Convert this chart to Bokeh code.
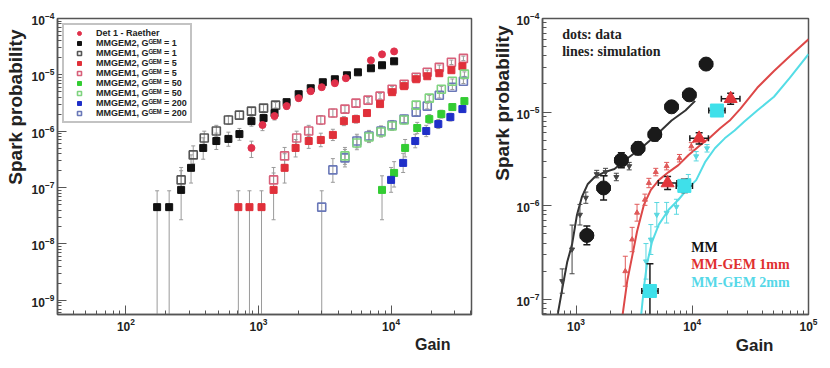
from bokeh.plotting import figure
from bokeh.models import (FixedTicker, LogTickFormatter, Title, Label, Legend, LegendItem)
from bokeh.layouts import row
from bokeh.embed import file_html
from bokeh.resources import INLINE

# ---------------- LEFT PANEL DATA ----------------
# Det 1 - Raether
a_gain = [885, 1072, 1321, 1630, 2009, 2477, 2999, 3767, 4559, 7047, 8544, 10540]
a_prob = [5.05e-7, 1.29e-6, 1.86e-6, 2.79e-6, 3.86e-6, 5.13e-6, 6.04e-6, 7.11e-6, 8.71e-6, 1.81e-5, 2.31e-5, 2.61e-5]
a_up = [0.12, 0.08, 0.06, 0.05, 0.05, 0.04, 0.04, 0.04, 0.04, 0.04, 0.04, 0.04]
a_dn = [0.17, 0.10, 0.07, 0.06, 0.05, 0.04, 0.04, 0.04, 0.04, 0.04, 0.04, 0.04]

# MMGEM2, G_GEM = 1
b_gain = [172, 212, 261, 310, 383, 481, 593, 718, 885, 1092, 1321, 1630, 2009, 2477, 3055, 3767, 4645, 5623, 7047, 8544, 10540]
b_prob = [4.5e-8, 4.5e-8, 9.1e-8, 2.24e-7, 5.05e-7, 6.7e-7, 7.3e-7, 8.9e-7, 1.51e-6, 1.71e-6, 2.10e-6, 3.28e-6,
          4.54e-6, 5.79e-6, 7.40e-6, 8.36e-6, 9.84e-6, 1.11e-5, 1.31e-5, 1.48e-5, 1.74e-5]
b_up = [0.29, 0.29, 0.34, 0.23, 0.18, 0.14, 0.12, 0.10, 0.08, 0.07, 0.06, 0.05, 0.05, 0.04, 0.04, 0.04, 0.04, 0.04, 0.04, 0.04, 0.04]
b_dn = [9, 9, 0.53, 0.27, 0.20, 0.15, 0.13, 0.11, 0.09, 0.08, 0.06, 0.05, 0.05, 0.04, 0.04, 0.04, 0.04, 0.04, 0.04, 0.04, 0.04]

# MMGEM1, G_GEM = 1
c_gain = [261, 322, 390, 481, 593, 718, 885, 1092, 1346]
c_prob = [1.37e-7, 3.8e-7, 7.6e-7, 1.01e-6, 1.58e-6, 1.93e-6, 2.27e-6, 2.57e-6, 2.90e-6]
c_up = [0.22, 0.16, 0.12, 0.10, 0.08, 0.07, 0.06, 0.06, 0.05]
c_dn = [0.25, 0.18, 0.13, 0.11, 0.09, 0.07, 0.06, 0.06, 0.05]

# MMGEM2, G_GEM = 5
d_gain = [705, 855, 1054, 1300, 1574, 1905, 2392, 2951, 3639, 4406, 5433, 6577, 8257, 10180, 12540, 15460, 18740, 23100, 28500, 34500]
d_prob = [4.5e-8, 4.5e-8, 4.5e-8, 9.1e-8, 2.24e-7, 5.05e-7, 6.7e-7, 7.0e-7, 8.6e-7, 1.51e-6, 1.64e-6, 2.10e-6,
          3.03e-6, 4.93e-6, 6.30e-6, 8.36e-6, 9.45e-6, 1.07e-5, 1.21e-5, 1.42e-5]
d_up = [0.29, 0.29, 0.29, 0.30, 0.25, 0.15, 0.12, 0.12, 0.10, 0.08, 0.07, 0.06, 0.05, 0.05, 0.04, 0.04, 0.04, 0.04, 0.04, 0.04]
d_dn = [9, 9, 9, 0.53, 0.27, 0.16, 0.13, 0.12, 0.10, 0.08, 0.07, 0.06, 0.05, 0.05, 0.04, 0.04, 0.04, 0.04, 0.04, 0.04]

# MMGEM1, G_GEM = 5
e_gain = [1300, 1574, 1941, 2392, 2951, 3639, 4488, 5433, 6700, 8257, 10180, 12540, 15460, 18740, 23100, 28500, 35100]
e_prob = [1.37e-7, 3.65e-7, 7.6e-7, 1.01e-6, 1.58e-6, 2.10e-6, 2.47e-6, 3.15e-6, 3.56e-6, 4.19e-6, 5.57e-6,
          6.82e-6, 9.08e-6, 1.11e-5, 1.36e-5, 1.67e-5, 1.96e-5]
e_err = [0.22, 0.15, 0.12, 0.10, 0.08, 0.07, 0.06, 0.06, 0.05, 0.05, 0.05, 0.04, 0.04, 0.04, 0.04, 0.04, 0.04]

# MMGEM2, G_GEM = 50
g_gain = [8544, 10540, 12760, 15740, 19410, 23930, 28970, 35720]
g_prob = [9.1e-8, 1.82e-7, 5.05e-7, 1.14e-6, 1.64e-6, 2.01e-6, 2.68e-6, 3.42e-6]
g_up = [0.25, 0.20, 0.15, 0.10, 0.08, 0.07, 0.06, 0.05]
g_dn = [0.53, 0.25, 0.16, 0.10, 0.08, 0.07, 0.06, 0.05]

# MMGEM1, G_GEM = 50
f_gain = [4488, 5521, 6808, 8395, 10180, 12540, 15460, 19410, 23930, 28970, 35720]
f_prob = [3.65e-7, 6.19e-7, 7.91e-7, 9.69e-7, 1.24e-6, 1.58e-6, 2.90e-6, 3.86e-6, 5.57e-6, 7.71e-6, 1.03e-5]
f_err = [0.15, 0.12, 0.10, 0.09, 0.08, 0.07, 0.06, 0.05, 0.05, 0.04, 0.04]

# MMGEM2, G_GEM = 200
i_gain = [10000, 12330, 15210, 18410, 22710, 27990, 34500]
i_prob = [1.37e-7, 2.74e-7, 6.7e-7, 1.01e-6, 1.34e-6, 1.78e-6, 2.47e-6]
i_err = [0.22, 0.17, 0.12, 0.10, 0.08, 0.07, 0.06]

# MMGEM1, G_GEM = 200
h_gain = [2999, 3639, 4488, 5521, 6808, 8395, 10180, 12540, 15460, 18740, 23100, 28970, 35100]
h_prob = [4.5e-8, 2.06e-7, 3.36e-7, 6.7e-7, 8.22e-7, 1.01e-6, 1.29e-6, 1.64e-6, 2.18e-6, 2.79e-6, 4.36e-6, 6.04e-6, 7.71e-6]
h_up = [0.29, 0.20, 0.15, 0.12, 0.10, 0.09, 0.08, 0.07, 0.06, 0.05, 0.05, 0.04, 0.04]
h_dn = [9, 0.22, 0.16, 0.12, 0.10, 0.09, 0.08, 0.07, 0.06, 0.05, 0.05, 0.04, 0.04]

legend_labels = ["Det 1 - Raether",
                 "MMGEM2, G\u1d33\u1d31\u1d39 = 1", "MMGEM1, G\u1d33\u1d31\u1d39 = 1",
                 "MMGEM2, G\u1d33\u1d31\u1d39 = 5", "MMGEM1, G\u1d33\u1d31\u1d39 = 5",
                 "MMGEM2, G\u1d33\u1d31\u1d39 = 50", "MMGEM1, G\u1d33\u1d31\u1d39 = 50",
                 "MMGEM2, G\u1d33\u1d31\u1d39 = 200", "MMGEM1, G\u1d33\u1d31\u1d39 = 200"]

left_xticks = [1e2, 1e3, 1e4]
left_yticks = [1e-9, 1e-8, 1e-7, 1e-6, 1e-5, 1e-4]

# ---------------- RIGHT PANEL DATA ----------------
mm_gain = [1240, 1727, 2455, 3420, 4764, 6637, 9438, 13150]
mm_prob = [4.82e-7, 1.55e-6, 3.07e-6, 4.11e-6, 5.78e-6, 1.14e-5, 1.53e-5, 3.26e-5]
mm_yerr = [0.10, 0.13, 0.08, 0.07, 0.07, 0.06, 0.06, 0.06]

g1_gain = [6138, 11460, 21400]
g1_prob = [1.75e-6, 5.25e-6, 1.39e-5]
g1_yerr = [0.07, 0.06, 0.06]

g2_gain = [4325, 8550, 16300]
g2_prob = [1.23e-7, 1.63e-6, 1.04e-5]
g2_up = [0.29, 0.07, 0.06]
g2_dn = [9, 0.07, 0.06]

mm_sim_gain = [690, 761, 839, 925, 1020, 1124, 1264, 1449, 1762, 2142, 2704, 3622, 4855, 6637, 8730, 10590]
mm_sim_prob = [6.5e-8, 1.29e-7, 2.49e-7, 3.87e-7, 8.03e-7, 1.24e-6, 1.71e-6, 2.03e-6, 2.29e-6, 2.47e-6,
               3.14e-6, 4.11e-6, 5.64e-6, 8.13e-6, 1.04e-5, 1.32e-5]

g1_sim_gain = [2502, 2758, 3041, 3350, 3843, 4406, 5152, 6265, 7603, 9247, 11690, 14220, 17270, 20990,
               26010, 36230, 50490, 69000, 100000]
g1_sim_prob = [6.5e-8, 1.57e-7, 2.88e-7, 5.31e-7, 1.03e-6, 1.48e-6, 1.88e-6, 2.29e-6, 2.72e-6, 3.47e-6,
               4.43e-6, 5.37e-6, 6.68e-6, 8.13e-6, 1.09e-5, 1.82e-5, 2.75e-5, 3.96e-5, 6.0e-5]

g2_sim_gain = [3622, 3843, 4074, 4493, 5152, 6265, 7603, 9247, 10810, 12880, 15660, 19030, 23130, 28100,
               36230, 50490, 69000, 100000]
g2_sim_prob = [6.5e-8, 1.35e-7, 2.38e-7, 4.06e-7, 6.29e-7, 9.08e-7, 1.16e-6, 1.55e-6, 1.88e-6, 2.92e-6,
               4.11e-6, 5.25e-6, 6.37e-6, 7.93e-6, 1.04e-5, 1.46e-5, 2.32e-5, 4.16e-5]

mm_pts_gain = [761, 925, 1081, 1215, 1507, 1795, 2223, 2868]
mm_pts_prob = [1.57e-7, 3.42e-7, 8.03e-7, 1.22e-6, 2.18e-6, 2.29e-6, 2.03e-6, 2.65e-6]
mm_pts_err = [0.13, 0.26, 0.11, 0.06, 0.04, 0.04, 0.04, 0.04]

g1_pts_gain = [2655, 3041, 3350, 3917, 4236, 4855, 6022, 7762, 9816]
g1_pts_prob = [2.0e-7, 4.36e-7, 8.43e-7, 1.16e-6, 1.75e-6, 2.29e-6, 2.65e-6, 3.22e-6, 4.31e-6]
g1_pts_err = [0.16, 0.13, 0.09, 0.06, 0.05, 0.04, 0.04, 0.04, 0.04]

g2_pts_gain = [3999, 4406, 4955, 6022, 7311, 9247, 10810, 13400]
g2_pts_prob = [2.55e-7, 4.36e-7, 8.03e-7, 8.43e-7, 9.76e-7, 1.88e-6, 3.38e-6, 4.11e-6]
g2_pts_err = [0.19, 0.16, 0.13, 0.11, 0.08, 0.06, 0.05, 0.04]

right_xticks = [1e3, 1e4, 1e5]
right_yticks = [1e-7, 1e-6, 1e-5, 1e-4]

FONT = "Liberation Sans"
SERIF = "Liberation Serif"


def minor(lo_exp, hi_exp):
    return [m * 10.0 ** e for e in range(lo_exp, hi_exp) for m in range(2, 10)]


def style_axes(p, xt, yt, xmin, ymin):
    p.xaxis.ticker = FixedTicker(ticks=xt, minor_ticks=minor(*xmin))
    p.yaxis.ticker = FixedTicker(ticks=yt, minor_ticks=minor(*ymin))
    for ax in (p.xaxis, p.yaxis):
        ax.formatter = LogTickFormatter()
        ax.major_tick_in = 9
        ax.major_tick_out = 0
        ax.minor_tick_in = 4
        ax.minor_tick_out = 0
        ax.axis_line_color = "#555555"
        ax.axis_line_width = 1.5
        ax.major_tick_line_color = "#555555"
        ax.minor_tick_line_color = "#555555"
        ax.major_label_text_font = FONT
        ax.major_label_text_font_style = "bold"
        ax.major_label_text_font_size = "12px"
        ax.major_label_text_color = "#222222"
        ax.major_label_standoff = 3
    p.xgrid.visible = False
    p.ygrid.visible = False
    p.outline_line_color = "#555555"
    p.outline_line_width = 1.5


def errbars(p, x, y, up, dn, color, cap=4, width=1):
    hi = [v * 10 ** u for v, u in zip(y, up)]
    lo = [v / 10 ** d if d < 5 else 1e-15 for v, d in zip(y, dn)]
    p.segment(x0=x, y0=lo, x1=x, y1=hi, line_color=color, line_width=width)
    p.scatter(x=x, y=hi, marker="dash", size=cap, line_color=color, line_width=width)
    p.scatter(x=x, y=lo, marker="dash", size=cap, line_color=color, line_width=width)


def xerrbars(p, x, y, dx, color, cap=6, width=1.5):
    lo = [v / 10 ** dx for v in x]
    hi = [v * 10 ** dx for v in x]
    p.segment(x0=lo, y0=y, x1=hi, y1=y, line_color=color, line_width=width)
    p.scatter(x=lo, y=y, marker="dash", angle=1.5708, size=cap, line_color=color, line_width=width)
    p.scatter(x=hi, y=y, marker="dash", angle=1.5708, size=cap, line_color=color, line_width=width)


# ---------------- LEFT FIGURE ----------------
p1 = figure(width=488, height=356, x_axis_type="log", y_axis_type="log",
            x_range=(30.5, 40400), y_range=(5.6e-10, 1.0e-4),
            output_backend="svg", toolbar_location=None,
            min_border_left=56, min_border_right=17, min_border_top=18, min_border_bottom=41,
            background_fill_color="white", border_fill_color="white")
style_axes(p1, left_xticks, left_yticks, (1, 5), (-10, -4))

EB = "#9a9a9a"
errbars(p1, a_gain, a_prob, a_up, a_dn, EB)
errbars(p1, b_gain, b_prob, b_up, b_dn, EB)
errbars(p1, c_gain, c_prob, c_up, c_up, EB)
errbars(p1, d_gain, d_prob, d_up, d_dn, EB)
errbars(p1, e_gain, e_prob, e_err, e_err, EB)
errbars(p1, g_gain, g_prob, g_up, g_dn, EB)
errbars(p1, f_gain, f_prob, f_err, f_err, EB)
errbars(p1, i_gain, i_prob, i_err, i_err, EB)
errbars(p1, h_gain, h_prob, h_up, h_dn, EB)

r_c = p1.scatter(c_gain, c_prob, marker="square", size=8, fill_color="white", fill_alpha=0,
                 line_color="#555555", line_width=1.6)
r_b = p1.scatter(b_gain, b_prob, marker="square", size=7, fill_color="#111111", line_color="#111111")
r_e = p1.scatter(e_gain, e_prob, marker="square", size=8, fill_alpha=0, line_color="#d8607a", line_width=1.6)
r_d = p1.scatter(d_gain, d_prob, marker="square", size=7, fill_color="#e0303a", line_color="#e0303a")
r_h = p1.scatter(h_gain, h_prob, marker="square", size=8, fill_alpha=0, line_color="#6a78b8", line_width=1.6)
r_f = p1.scatter(f_gain, f_prob, marker="square", size=8, fill_alpha=0, line_color="#7fd37f", line_width=1.6)
r_g = p1.scatter(g_gain, g_prob, marker="square", size=7, fill_color="#33cc33", line_color="#33cc33")
r_i = p1.scatter(i_gain, i_prob, marker="square", size=7, fill_color="#1f2fc8", line_color="#1f2fc8")
r_a = p1.scatter(a_gain, a_prob, marker="circle", size=7, fill_color="#e0304a", line_color="#e0304a")

renderers = [r_a, r_b, r_c, r_d, r_e, r_g, r_f, r_i, r_h]
leg = Legend(items=[LegendItem(label=lab, renderers=[r]) for lab, r in zip(legend_labels, renderers)],
             location="top_left", margin=5, padding=3, spacing=0,
             label_height=10, glyph_height=10, glyph_width=24, label_standoff=5,
             label_text_font=FONT, label_text_font_style="bold", label_text_font_size="9px",
             label_text_color="#222222",
             border_line_color="#888888", border_line_width=2, background_fill_color="white",
             background_fill_alpha=1)
p1.add_layout(leg)

p1.add_layout(Title(text="Spark probability", align="right", offset=11, standoff=5, text_font=FONT,
                    text_font_size="19px", text_font_style="bold", text_color="#222222"), "left")
p1.add_layout(Title(text="Gain", align="right", offset=21, standoff=0, text_font=FONT,
                    text_font_size="16px", text_font_style="bold", text_color="#222222"), "below")

# ---------------- RIGHT FIGURE ----------------
p2 = figure(width=330, height=356, x_axis_type="log", y_axis_type="log",
            x_range=(515, 1e5), y_range=(6.9e-8, 1.0e-4),
            output_backend="svg", toolbar_location=None,
            min_border_left=50, min_border_right=10, min_border_top=16, min_border_bottom=42,
            background_fill_color="white", border_fill_color="white")
style_axes(p2, right_xticks, right_yticks, (2, 5), (-8, -4))

BLACK = "#1a1a1a"
RED = "#e2353a"
CYAN = "#3fe0ea"

p2.line(mm_sim_gain, mm_sim_prob, line_color="#333333", line_width=2)
p2.line(g1_sim_gain, g1_sim_prob, line_color="#dd4848", line_width=2)
p2.line(g2_sim_gain, g2_sim_prob, line_color="#55dde6", line_width=2)

errbars(p2, mm_pts_gain, mm_pts_prob, mm_pts_err, mm_pts_err, "#444444", cap=5)
errbars(p2, g1_pts_gain, g1_pts_prob, g1_pts_err, g1_pts_err, "#e05a5a", cap=5)
errbars(p2, g2_pts_gain, g2_pts_prob, g2_pts_err, g2_pts_err, "#5ad8e0", cap=5)
p2.scatter(mm_pts_gain, mm_pts_prob, marker="inverted_triangle", size=5, color="#444444")
p2.scatter(g1_pts_gain, g1_pts_prob, marker="triangle", size=5, color="#e05a5a")
p2.scatter(g2_pts_gain, g2_pts_prob, marker="inverted_triangle", size=5, color="#5ad8e0")

errbars(p2, mm_gain, mm_prob, mm_yerr, mm_yerr, BLACK, cap=7, width=1.5)
xerrbars(p2, mm_gain, mm_prob, 0.055, BLACK)
errbars(p2, g1_gain, g1_prob, g1_yerr, g1_yerr, BLACK, cap=7, width=1.5)
xerrbars(p2, g1_gain, g1_prob, 0.08, BLACK)
errbars(p2, g2_gain, g2_prob, g2_up, g2_dn, BLACK, cap=7, width=1.5)
xerrbars(p2, g2_gain, g2_prob, 0.07, BLACK)

p2.scatter(mm_gain, mm_prob, marker="circle", size=14, fill_color=BLACK, line_color=BLACK)
p2.scatter(g1_gain, g1_prob, marker="triangle", size=13, fill_color=RED, line_color=RED)
p2.scatter(g2_gain, g2_prob, marker="square", size=13, fill_color=CYAN, line_color=CYAN)

for txt, gx, py, col in [("dots: data", 761, 6.77e-5, "#222222"),
                         ("lines: simulation", 761, 4.48e-5, "#222222"),
                         ("MM", 9816, 3.6e-7, "#111111"),
                         ("MM-GEM  1mm", 9816, 2.38e-7, "#e03030"),
                         ("MM-GEM  2mm", 9816, 1.53e-7, "#55d8e8")]:
    p2.add_layout(Label(x=gx, y=py, text=txt, text_font=SERIF, text_font_style="bold",
                        text_font_size="14px", text_color=col, text_baseline="middle"))

p2.add_layout(Title(text="Spark probability", align="right", offset=7, standoff=2, text_font=FONT,
                    text_font_size="19px", text_font_style="bold", text_color="#222222"), "left")
p2.add_layout(Title(text="Gain", align="right", offset=35, standoff=0, text_font=FONT,
                    text_font_size="17px", text_font_style="bold", text_color="#222222"), "below")

layout = row(p1, p2)
open("out.html", "w").write(file_html(layout, INLINE))
